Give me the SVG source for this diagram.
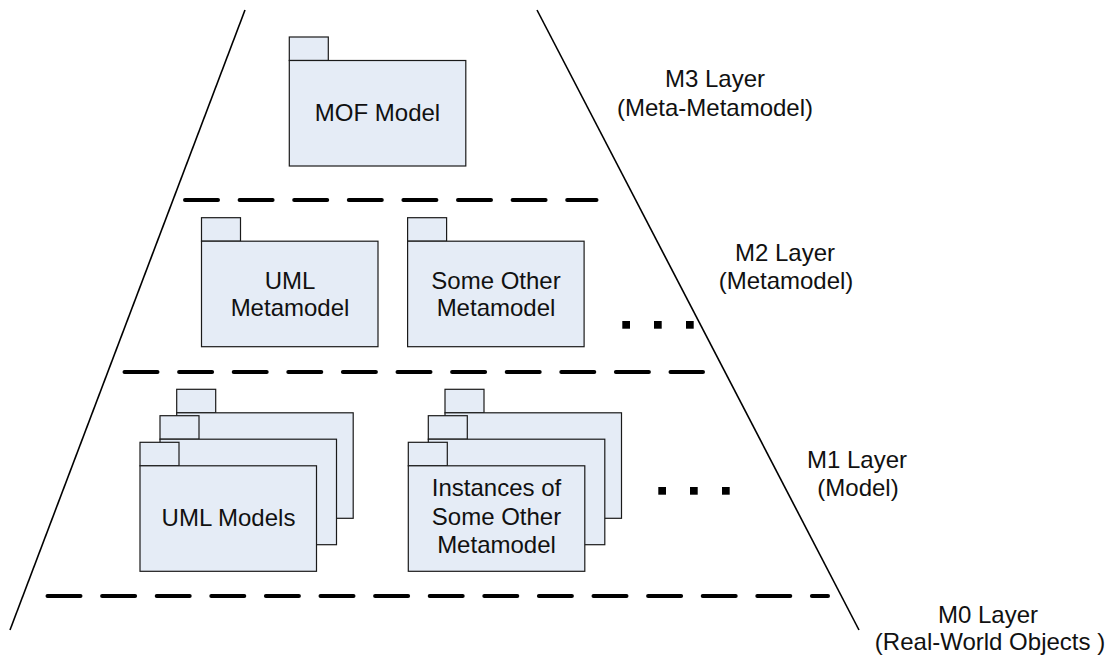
<svg xmlns="http://www.w3.org/2000/svg" xmlns:xlink="http://www.w3.org/1999/xlink" width="1111" height="659" viewBox="0 0 1111 659">
<style>
.pk rect{fill:#E5ECF6;stroke:#1a1a1a;stroke-width:1.2}
.t{font-family:"Liberation Sans",Arial,sans-serif;font-size:24px;fill:#111;text-anchor:middle}
.slant{stroke:#000;stroke-width:1.6;fill:none}
.dash{stroke:#000;stroke-width:4;stroke-dasharray:33 21.6;stroke-linecap:round;fill:none}
.dot{fill:#000}
</style>
<defs>
<g id="pkg" class="pk">
<rect x="0" y="0" width="39" height="23.5"/>
<rect x="0" y="23.5" width="176.5" height="105.5"/>
</g>
</defs>
<rect width="1111" height="659" fill="#fff"/>
<g id="connectors">
<line class="slant" x1="245" y1="10" x2="10" y2="630"/>
<line class="slant" x1="537" y1="10" x2="859" y2="630"/>
<line class="dash" x1="185" y1="200" x2="596.5" y2="200"/>
<line class="dash" x1="124.5" y1="372" x2="703" y2="372"/>
<line class="dash" x1="47.5" y1="596" x2="828" y2="596"/>
</g>
<g id="mof">
<use xlink:href="#pkg" x="289.3" y="37"/>
<text class="t" x="377.5" y="121">MOF Model</text>
</g>
<g id="uml-metamodel">
<use xlink:href="#pkg" x="201.5" y="217.7"/>
<text class="t" x="290" y="288.5">UML</text>
<text class="t" x="290" y="315.5">Metamodel</text>
</g>
<g id="other-metamodel">
<use xlink:href="#pkg" x="407.6" y="217.7"/>
<text class="t" x="496" y="288.5">Some Other</text>
<text class="t" x="496" y="315.5">Metamodel</text>
</g>
<g id="m2-dots">
<rect class="dot" x="622.3" y="321" width="7.7" height="7.7"/>
<rect class="dot" x="654" y="321" width="7.7" height="7.7"/>
<rect class="dot" x="686" y="321" width="7.7" height="7.7"/>
</g>
<g id="uml-models">
<use xlink:href="#pkg" x="176.7" y="389.3"/>
<use xlink:href="#pkg" x="160" y="415.7"/>
<use xlink:href="#pkg" x="140" y="442.3"/>
<text class="t" x="228.5" y="526">UML Models</text>
</g>
<g id="instances">
<use xlink:href="#pkg" x="445" y="389.3"/>
<use xlink:href="#pkg" x="428.3" y="415.7"/>
<use xlink:href="#pkg" x="408.3" y="442.3"/>
<text class="t" x="496.5" y="496">Instances of</text>
<text class="t" x="496.5" y="525">Some Other</text>
<text class="t" x="496.5" y="553">Metamodel</text>
</g>
<g id="m1-dots">
<rect class="dot" x="658.3" y="487" width="7.7" height="7.7"/>
<rect class="dot" x="690" y="487" width="7.7" height="7.7"/>
<rect class="dot" x="722" y="487" width="7.7" height="7.7"/>
</g>
<g id="m3-label">
<text class="t" x="715" y="87">M3 Layer</text>
<text class="t" x="715" y="116">(Meta-Metamodel)</text>
</g>
<g id="m2-label">
<text class="t" x="785" y="260.5">M2 Layer</text>
<text class="t" x="786" y="289">(Metamodel)</text>
</g>
<g id="m1-label">
<text class="t" x="857" y="468">M1 Layer</text>
<text class="t" x="858" y="496">(Model)</text>
</g>
<g id="m0-label">
<text class="t" x="988" y="622.5">M0 Layer</text>
<text class="t" x="990" y="650">(Real-World Objects )</text>
</g>
</svg>
